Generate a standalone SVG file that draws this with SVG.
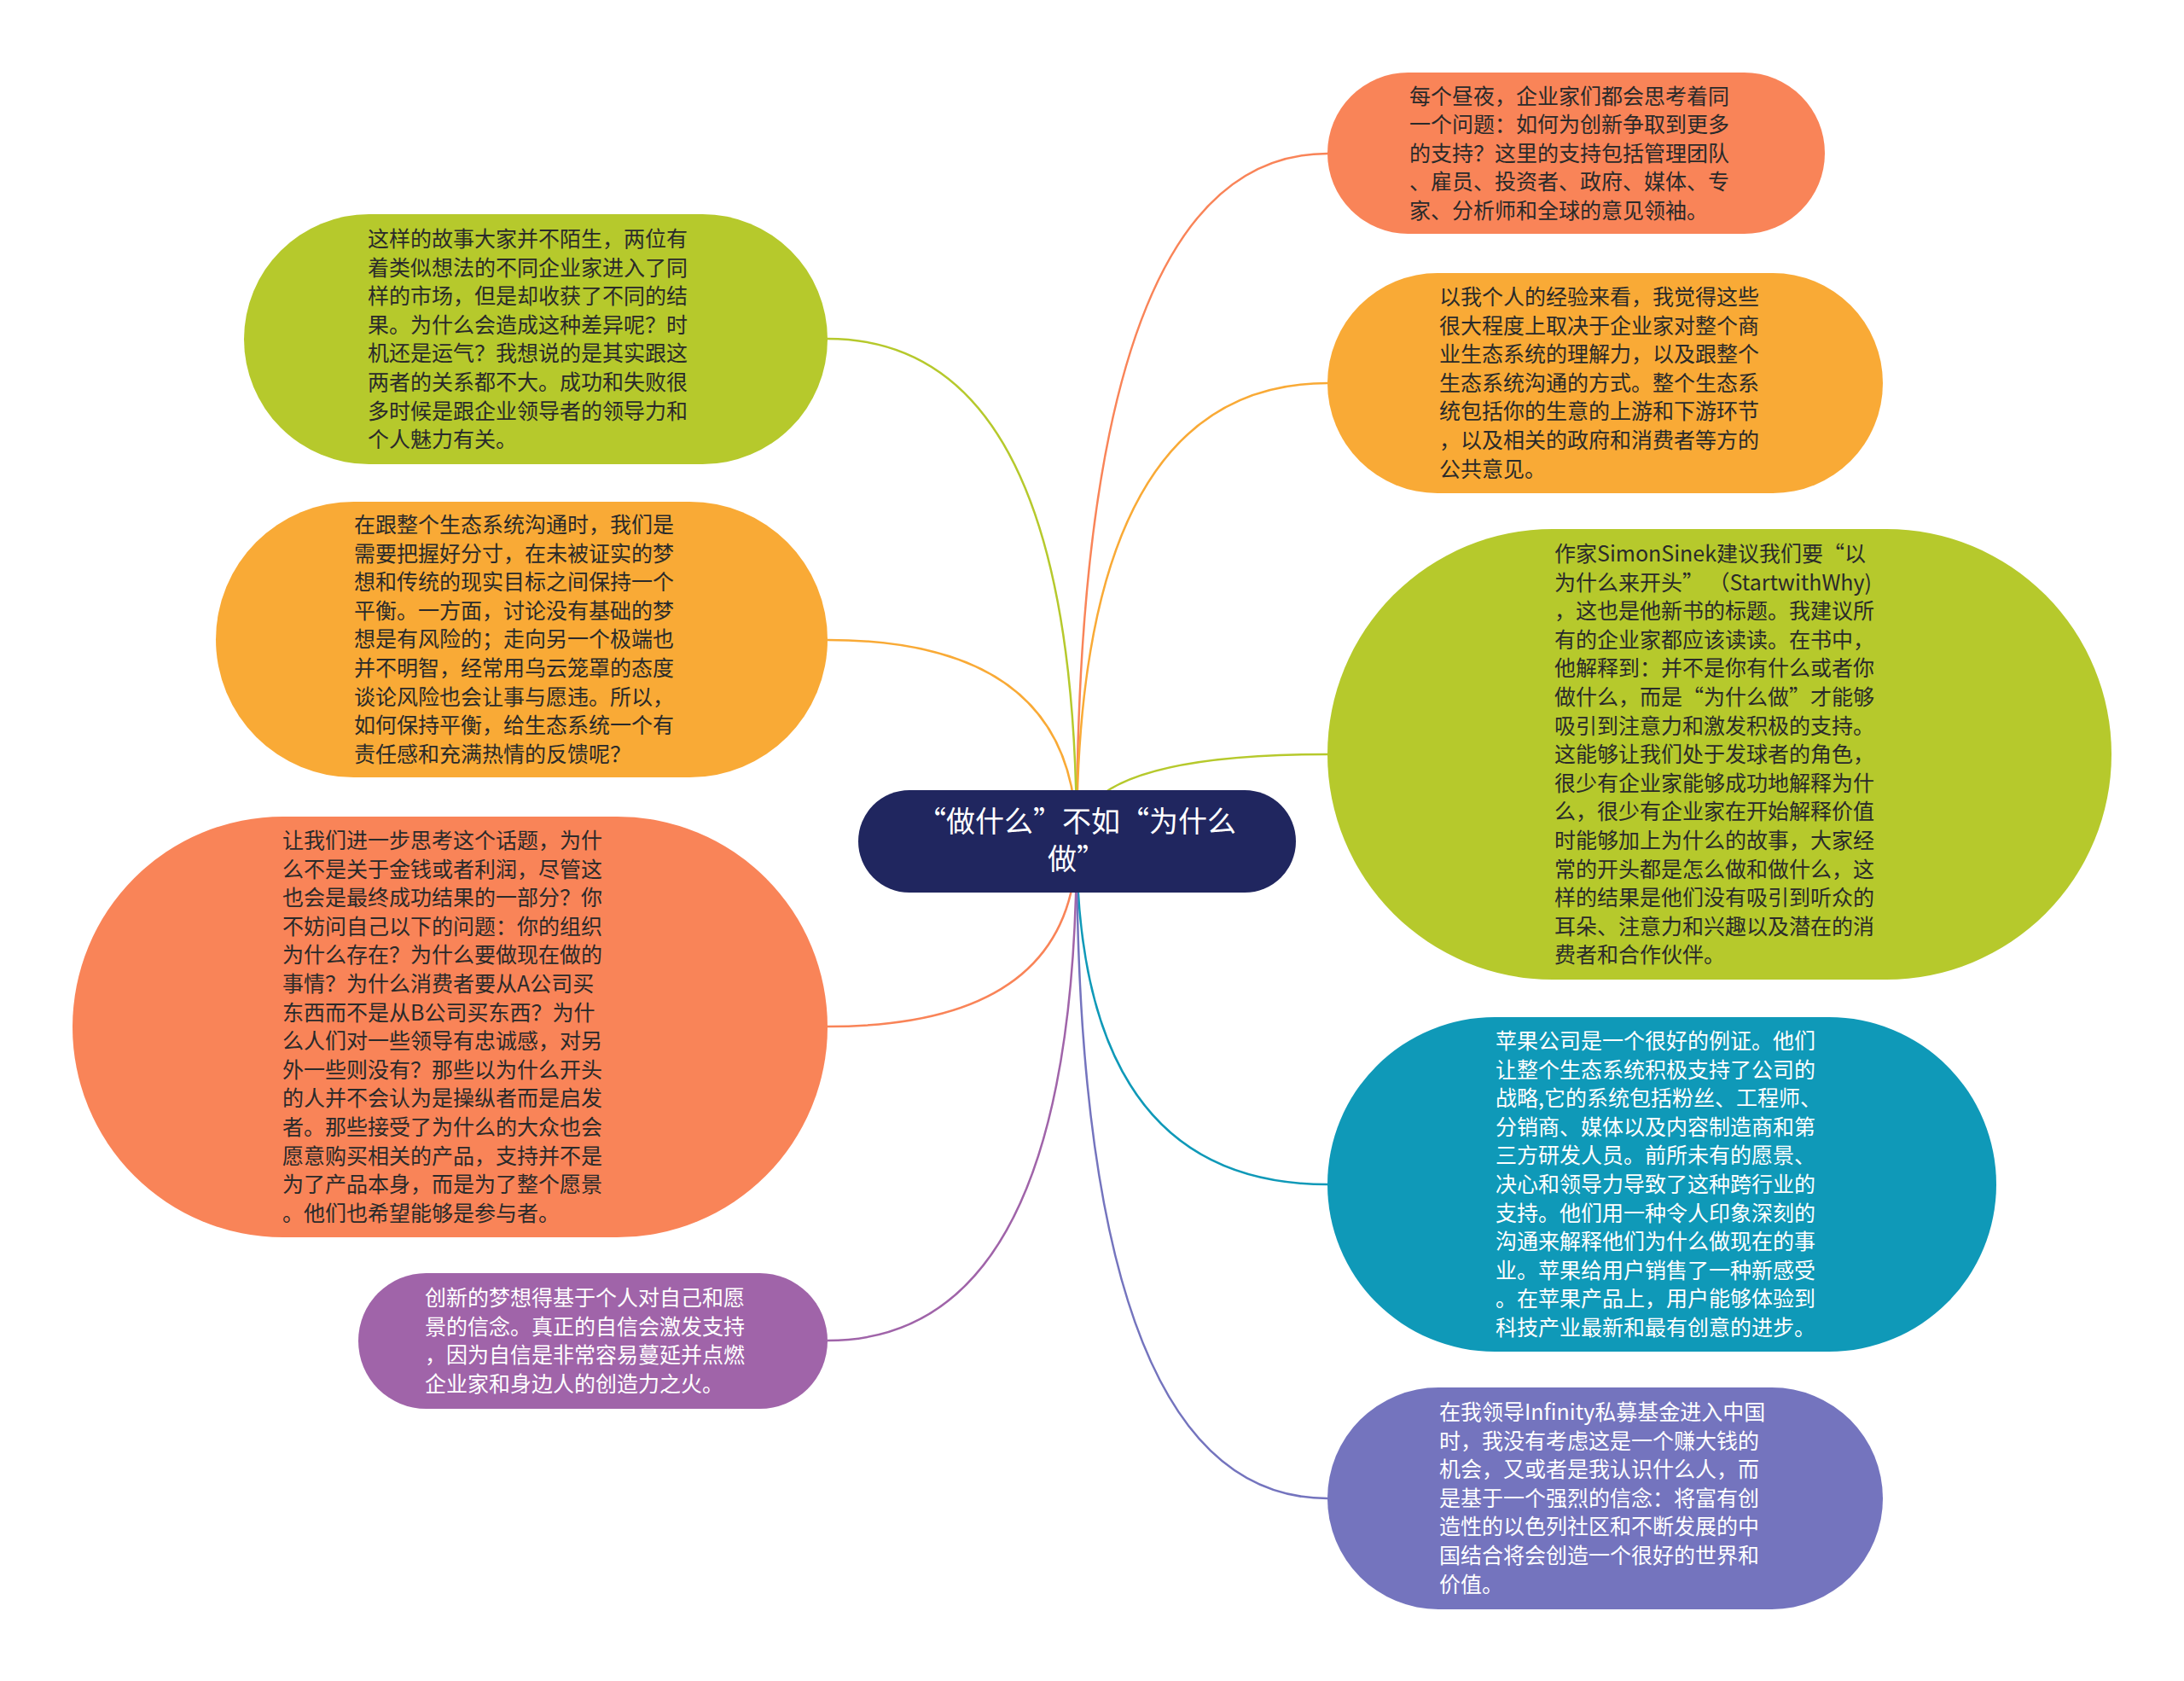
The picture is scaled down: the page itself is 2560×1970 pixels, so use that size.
<svg xmlns="http://www.w3.org/2000/svg" width="2560" height="1970" viewBox="0 0 2560 1970">
<style>
.t{font-family:"Noto Sans CJK SC","Liberation Sans",sans-serif;font-size:25px;}
.dk{fill:#2a2a2a;}
.wt{fill:#ffffff;}
.c{fill:none;stroke-width:2.5;}
.ctr{font-family:"Noto Sans CJK SC","Liberation Sans",sans-serif;font-size:34px;fill:#ffffff;}
</style>
<rect width="2560" height="1970" fill="#ffffff"/>
<g id="connectors">
<path class="c" stroke="#f98458" d="M1262,985 Q1262,180 1556,180"/>
<path class="c" stroke="#f9aa36" d="M1262,985 Q1262,449 1556,449"/>
<path class="c" stroke="#b6c92c" d="M1262,985 Q1262,884 1556,884"/>
<path class="c" stroke="#0f99b8" d="M1262,985 Q1262,1388 1556,1388"/>
<path class="c" stroke="#7474be" d="M1262,985 Q1262,1756 1556,1756"/>
<path class="c" stroke="#b6c92c" d="M1262,985 Q1262,397 970,397"/>
<path class="c" stroke="#f9aa36" d="M1262,985 Q1262,750 970,750"/>
<path class="c" stroke="#f98458" d="M1262,985 Q1262,1203 970,1203"/>
<path class="c" stroke="#a064a9" d="M1262,985 Q1262,1571 970,1571"/>
</g>
<g id="center">
<rect x="1006" y="926" width="513" height="120" rx="60" ry="60" fill="#20265f"/>
<text class="ctr" text-anchor="middle"><tspan x="1262" y="975">“做什么”不如“为什么</tspan><tspan x="1262" y="1019">做”</tspan></text>
</g>
<g id="r1">
<rect x="1556" y="85" width="583" height="189" rx="94.5" ry="94.5" fill="#f98458"/>
<text class="t dk" x="1652" y="121.5"><tspan x="1652">每个昼夜，企业家们都会思考着同</tspan><tspan x="1652" dy="33.6">一个问题：如何为创新争取到更多</tspan><tspan x="1652" dy="33.6">的支持？这里的支持包括管理团队</tspan><tspan x="1652" dy="33.6">、雇员、投资者、政府、媒体、专</tspan><tspan x="1652" dy="33.6">家、分析师和全球的意见领袖。</tspan></text>
</g>
<g id="r2">
<rect x="1556" y="320" width="651" height="258" rx="129" ry="129" fill="#f9aa36"/>
<text class="t dk" x="1687" y="357"><tspan x="1687">以我个人的经验来看，我觉得这些</tspan><tspan x="1687" dy="33.6">很大程度上取决于企业家对整个商</tspan><tspan x="1687" dy="33.6">业生态系统的理解力，以及跟整个</tspan><tspan x="1687" dy="33.6">生态系统沟通的方式。整个生态系</tspan><tspan x="1687" dy="33.6">统包括你的生意的上游和下游环节</tspan><tspan x="1687" dy="33.6">，以及相关的政府和消费者等方的</tspan><tspan x="1687" dy="33.6">公共意见。</tspan></text>
</g>
<g id="r3">
<rect x="1556" y="620" width="919" height="528" rx="264" ry="264" fill="#b6c92c"/>
<text class="t dk" x="1822" y="658"><tspan x="1822">作家SimonSinek建议我们要“以</tspan><tspan x="1822" dy="33.6">为什么来开头” （StartwithWhy)</tspan><tspan x="1822" dy="33.6">，这也是他新书的标题。我建议所</tspan><tspan x="1822" dy="33.6">有的企业家都应该读读。在书中，</tspan><tspan x="1822" dy="33.6">他解释到：并不是你有什么或者你</tspan><tspan x="1822" dy="33.6">做什么，而是“为什么做”才能够</tspan><tspan x="1822" dy="33.6">吸引到注意力和激发积极的支持。</tspan><tspan x="1822" dy="33.6">这能够让我们处于发球者的角色，</tspan><tspan x="1822" dy="33.6">很少有企业家能够成功地解释为什</tspan><tspan x="1822" dy="33.6">么，很少有企业家在开始解释价值</tspan><tspan x="1822" dy="33.6">时能够加上为什么的故事，大家经</tspan><tspan x="1822" dy="33.6">常的开头都是怎么做和做什么，这</tspan><tspan x="1822" dy="33.6">样的结果是他们没有吸引到听众的</tspan><tspan x="1822" dy="33.6">耳朵、注意力和兴趣以及潜在的消</tspan><tspan x="1822" dy="33.6">费者和合作伙伴。</tspan></text>
</g>
<g id="r4">
<rect x="1556" y="1192" width="784" height="392" rx="196" ry="196" fill="#0f99b8"/>
<text class="t wt" x="1753" y="1229"><tspan x="1753">苹果公司是一个很好的例证。他们</tspan><tspan x="1753" dy="33.6">让整个生态系统积极支持了公司的</tspan><tspan x="1753" dy="33.6">战略,它的系统包括粉丝、工程师、</tspan><tspan x="1753" dy="33.6">分销商、媒体以及内容制造商和第</tspan><tspan x="1753" dy="33.6">三方研发人员。前所未有的愿景、</tspan><tspan x="1753" dy="33.6">决心和领导力导致了这种跨行业的</tspan><tspan x="1753" dy="33.6">支持。他们用一种令人印象深刻的</tspan><tspan x="1753" dy="33.6">沟通来解释他们为什么做现在的事</tspan><tspan x="1753" dy="33.6">业。苹果给用户销售了一种新感受</tspan><tspan x="1753" dy="33.6">。在苹果产品上，用户能够体验到</tspan><tspan x="1753" dy="33.6">科技产业最新和最有创意的进步。</tspan></text>
</g>
<g id="r5">
<rect x="1556" y="1626" width="651" height="260" rx="130" ry="130" fill="#7474be"/>
<text class="t wt" x="1687" y="1664"><tspan x="1687">在我领导Infinity私募基金进入中国</tspan><tspan x="1687" dy="33.6">时，我没有考虑这是一个赚大钱的</tspan><tspan x="1687" dy="33.6">机会，又或者是我认识什么人，而</tspan><tspan x="1687" dy="33.6">是基于一个强烈的信念：将富有创</tspan><tspan x="1687" dy="33.6">造性的以色列社区和不断发展的中</tspan><tspan x="1687" dy="33.6">国结合将会创造一个很好的世界和</tspan><tspan x="1687" dy="33.6">价值。</tspan></text>
</g>
<g id="l1">
<rect x="286" y="251" width="684" height="293" rx="146.5" ry="146.5" fill="#b6c92c"/>
<text class="t dk" x="431" y="289"><tspan x="431">这样的故事大家并不陌生，两位有</tspan><tspan x="431" dy="33.6">着类似想法的不同企业家进入了同</tspan><tspan x="431" dy="33.6">样的市场，但是却收获了不同的结</tspan><tspan x="431" dy="33.6">果。为什么会造成这种差异呢？时</tspan><tspan x="431" dy="33.6">机还是运气？我想说的是其实跟这</tspan><tspan x="431" dy="33.6">两者的关系都不大。成功和失败很</tspan><tspan x="431" dy="33.6">多时候是跟企业领导者的领导力和</tspan><tspan x="431" dy="33.6">个人魅力有关。</tspan></text>
</g>
<g id="l2">
<rect x="253" y="588" width="717" height="323" rx="161.5" ry="161.5" fill="#f9aa36"/>
<text class="t dk" x="415" y="624"><tspan x="415">在跟整个生态系统沟通时，我们是</tspan><tspan x="415" dy="33.6">需要把握好分寸，在未被证实的梦</tspan><tspan x="415" dy="33.6">想和传统的现实目标之间保持一个</tspan><tspan x="415" dy="33.6">平衡。一方面，讨论没有基础的梦</tspan><tspan x="415" dy="33.6">想是有风险的；走向另一个极端也</tspan><tspan x="415" dy="33.6">并不明智，经常用乌云笼罩的态度</tspan><tspan x="415" dy="33.6">谈论风险也会让事与愿违。所以，</tspan><tspan x="415" dy="33.6">如何保持平衡，给生态系统一个有</tspan><tspan x="415" dy="33.6">责任感和充满热情的反馈呢？</tspan></text>
</g>
<g id="l3">
<rect x="85" y="957" width="885" height="493" rx="246.5" ry="246.5" fill="#f98458"/>
<text class="t dk" x="331" y="994"><tspan x="331">让我们进一步思考这个话题，为什</tspan><tspan x="331" dy="33.6">么不是关于金钱或者利润，尽管这</tspan><tspan x="331" dy="33.6">也会是最终成功结果的一部分？你</tspan><tspan x="331" dy="33.6">不妨问自己以下的问题：你的组织</tspan><tspan x="331" dy="33.6">为什么存在？为什么要做现在做的</tspan><tspan x="331" dy="33.6">事情？为什么消费者要从A公司买</tspan><tspan x="331" dy="33.6">东西而不是从B公司买东西？为什</tspan><tspan x="331" dy="33.6">么人们对一些领导有忠诚感，对另</tspan><tspan x="331" dy="33.6">外一些则没有？那些以为什么开头</tspan><tspan x="331" dy="33.6">的人并不会认为是操纵者而是启发</tspan><tspan x="331" dy="33.6">者。那些接受了为什么的大众也会</tspan><tspan x="331" dy="33.6">愿意购买相关的产品，支持并不是</tspan><tspan x="331" dy="33.6">为了产品本身，而是为了整个愿景</tspan><tspan x="331" dy="33.6">。他们也希望能够是参与者。</tspan></text>
</g>
<g id="l4">
<rect x="420" y="1492" width="550" height="159" rx="79.5" ry="79.5" fill="#a064a9"/>
<text class="t wt" x="498" y="1530"><tspan x="498">创新的梦想得基于个人对自己和愿</tspan><tspan x="498" dy="33.6">景的信念。真正的自信会激发支持</tspan><tspan x="498" dy="33.6">，因为自信是非常容易蔓延并点燃</tspan><tspan x="498" dy="33.6">企业家和身边人的创造力之火。</tspan></text>
</g>
</svg>
